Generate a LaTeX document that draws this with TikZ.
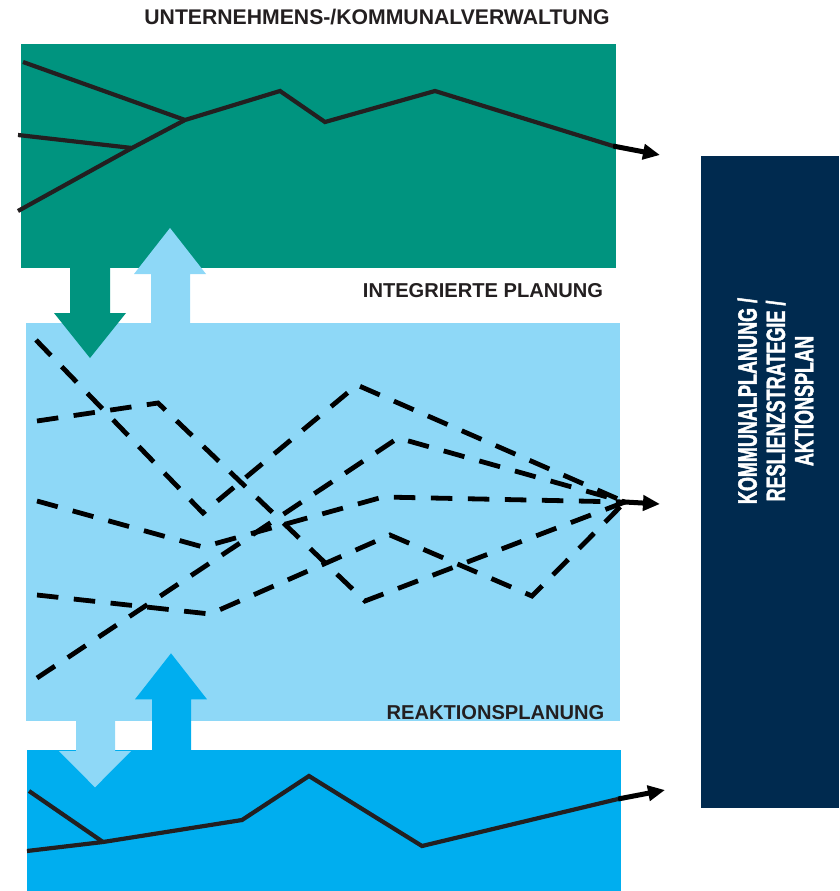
\documentclass[tikz,border=0pt]{standalone}
\usepackage{fontspec}
\setmainfont{Liberation Sans}
\newfontfamily\narrowbold[FakeStretch=0.68,FakeBold=1.6]{Liberation Sans Bold}
\usetikzlibrary{arrows.meta}

\definecolor{mgmtgreen}{HTML}{00947F}
\definecolor{skylight}{HTML}{8ED8F7}
\definecolor{brightblue}{HTML}{00AEEF}
\definecolor{navyblue}{HTML}{002A4F}
\definecolor{inkgray}{HTML}{231F20}

\begin{document}
\begin{tikzpicture}[x=1pt,y=-1pt,
  heading/.style={font=\bfseries\fontsize{20.1}{24}\selectfont, text=inkgray, inner sep=0, anchor=base},
  panel/.style={inner sep=0, outer sep=0, anchor=north west},
  trend/.style={draw=inkgray, line width=4.2pt},
  scenario/.style={draw=black, line width=4.8pt, dash pattern=on 21.5pt off 15.5pt},
  outarrow/.style={draw=black, line width=5pt, -{Triangle[length=17pt,width=15pt]}}]

\useasboundingbox (0,0) rectangle (839,891);

% the three planning layers and the result panel
\node[panel, fill=mgmtgreen, minimum width=595pt, minimum height=224pt] (mgmt) at (21,44) {};
\node[panel, fill=skylight, minimum width=594pt, minimum height=398pt] (integ) at (26,322.7) {};
\node[panel, fill=brightblue, minimum width=594pt, minimum height=141.3pt] (react) at (27,749.7) {};
\node[panel, fill=navyblue, minimum width=138pt, minimum height=652pt] (plan) at (701,156) {};

% exchange arrows between the layers
\fill[mgmtgreen] (70,260) -- (110,260) -- (110,313) -- (126,313) -- (90,358) -- (54,313) -- (70,313) -- cycle;
\fill[skylight] (151,330) -- (151,274) -- (134,274) -- (170,228) -- (206,274) -- (190,274) -- (190,330) -- cycle;
\fill[skylight] (76,712) -- (115,712) -- (115,751) -- (131,751) -- (95,787.3) -- (59,751) -- (76,751) -- cycle;
\fill[brightblue] (152,760) -- (152,699.3) -- (135,699.3) -- (171,653.3) -- (207,699.3) -- (191,699.3) -- (191,760) -- cycle;

% management layer: merging trend lines
\coordinate (ga) at (23,62);
\coordinate (gb) at (18,135);
\coordinate (gc) at (18,211);
\coordinate (gm) at (132,148);
\coordinate (gj) at (185,120);
\coordinate (g1) at (280,91);
\coordinate (g2) at (325,122);
\coordinate (g3) at (435,91);
\coordinate (g4) at (613,146);
\coordinate (gout) at (660,155);
\draw[trend] (ga) -- (gj);
\draw[trend] (gb) -- (gm);
\draw[trend] (gc) -- (gm) -- (gj) -- (g1) -- (g2) -- (g3) -- (g4);
\draw[outarrow] (g4) -- (gout);

% integrated planning: dashed scenarios converging
\coordinate (conv) at (625,502);
\coordinate (sout) at (660,504);
\draw[scenario] (36,340) -- (203,513) -- (357,385) -- (conv);
\draw[scenario] (37,421) -- (158,403) -- (365,601) -- (conv);
\draw[scenario] (37,501) -- (203,547) -- (383,497) -- (conv);
\draw[scenario] (37,678) -- (398,438) -- (conv);
\draw[scenario] (37,595) -- (210,614) -- (390,535) -- (532,596) -- (conv);
\draw[outarrow] (conv) -- (sout);

% reaction planning: trend lines
\coordinate (ra) at (29,791);
\coordinate (rb) at (27,851);
\coordinate (rm) at (103,842);
\coordinate (r1) at (242,820);
\coordinate (r2) at (309,776);
\coordinate (r3) at (422,846);
\coordinate (r4) at (618,799);
\coordinate (rout) at (665,790);
\draw[trend] (ra) -- (rm);
\draw[trend] (rb) -- (rm) -- (r1) -- (r2) -- (r3) -- (r4);
\draw[outarrow] (r4) -- (rout);

% labels
\node[heading, font=\bfseries\fontsize{21.2}{25}\selectfont] (mgmtlabel) at (377,25) {UNTERNEHMENS-/KOMMUNALVERWALTUNG};
\node[heading] (integlabel) at (483,297) {INTEGRIERTE PLANUNG};
\node[heading] (reactlabel) at (495.5,719.5) {REAKTIONSPLANUNG};
\node[rotate=90, text=white, align=center, inner sep=0,
  font=\narrowbold\fontsize{26.5}{28.3}\selectfont] (plantext) at (775.5,401)
  {KOMMUNALPLANUNG /\\RESLIENZSTRATEGIE /\\AKTIONSPLAN};
\end{tikzpicture}
\end{document}
